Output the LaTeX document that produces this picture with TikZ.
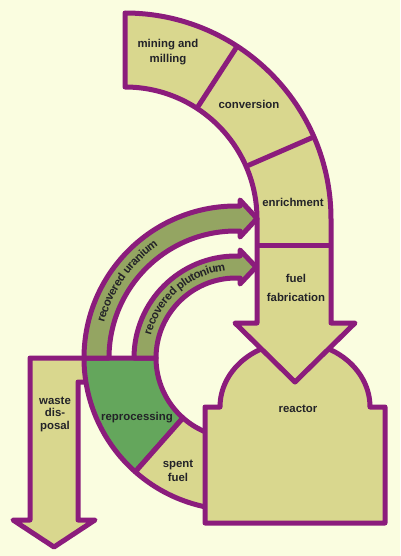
\documentclass[tikz,border=0pt]{standalone}
\usepackage{fontspec}
\setmainfont{Liberation Sans}
\usetikzlibrary{calc,decorations.text}
\definecolor{bg}{RGB}{250,253,224}
\definecolor{khaki}{RGB}{217,215,142}
\definecolor{plum}{RGB}{139,28,124}
\definecolor{repgreen}{RGB}{100,166,92}
\definecolor{olive}{RGB}{148,165,98}
\definecolor{ink}{RGB}{35,35,40}
\begin{document}
\begin{tikzpicture}[x=1pt,y=-1pt,line join=round,
  block/.style={draw=plum,line width=5pt,fill=khaki},
  divider/.style={draw=plum,line width=5pt},
  lbl/.style={text=ink,align=center,inner sep=0pt},
  fnt/.style={font=\fontsize{11.4}{#1}\selectfont\bfseries},
  arctext/.style={decorate,decoration={text effects along path,text={#1},text align=center,
    text effects/.cd,text along path,
    characters={text=ink,font=\fontsize{11.4}{14}\selectfont\bfseries,inner sep=0pt},
    character widths={inner xsep=0.35pt}}}]
\fill[bg] (0,0) rectangle (400,556);
\useasboundingbox (0,0) rectangle (400,556);
\coordinate (C1) at (125,219);
\coordinate (C2) at (236,358);
% waste disposal
\draw[block] (30,358) -- (87,358) -- (87,382) -- (78,382) -- (78,520) -- (95,520) -- (54,547) -- (13,520) -- (30,520) -- cycle;
% reprocessing
\draw[block,fill=repgreen] ($(C2)+(180:152)$) arc[start angle=180,end angle=131.5,radius=152]
  -- ($(C2)+(131.5:80)$) arc[start angle=131.5,end angle=180,radius=80] -- cycle;
% spent fuel
\draw[block] ($(C2)+(131.5:152)$) arc[start angle=131.5,end angle=90,radius=152]
  -- ($(C2)+(90:80)$) arc[start angle=90,end angle=131.5,radius=80] -- cycle;
% reactor
\draw[block] (205,407) -- (220,407) arc[start angle=180,end angle=360,x radius=75,y radius=65]
  -- (385,407) -- (385,523) -- (205,523) -- cycle;
% top band with fuel fabrication arrow
\draw[block] ($(C1)+(270:206)$) arc[start angle=270,end angle=360,radius=206]
  -- (331,323) -- (355,323) -- (295,382) -- (235,323) -- (257,323) -- (257,219)
  arc[start angle=360,end angle=270,radius=132] -- cycle;
\draw[divider] ($(C1)+(303:132)$) -- ($(C1)+(303:206)$);
\draw[divider] ($(C1)+(336.5:132)$) -- ($(C1)+(336.5:206)$);
\draw[divider] (257,245) -- (331,245);
% recovered uranium
\draw[block,fill=olive] ($(C2)+(180:152)$) arc[start angle=180,end angle=270,radius=152]
  -- (240,206) -- (240,200) -- (257,218.5) -- (240,237) -- (240,231) -- (236,231)
  arc[start angle=270,end angle=180,radius=127] -- cycle;
% recovered plutonium
\draw[block,fill=olive] ($(C2)+(180:102)$) arc[start angle=180,end angle=270,radius=102]
  -- (240,256) -- (240,250) -- (256,267) -- (240,284) -- (240,278) -- (236,278)
  arc[start angle=270,end angle=180,radius=80] -- cycle;
% curved labels
\path[arctext={recovered uranium}]
  ($(C2)+(170:136.5)$) arc[start angle=170,end angle=260,radius=136.5];
\path[arctext={recovered plutonium}]
  ($(C2)+(186:88)$) arc[start angle=186,end angle=272,radius=88];
% labels
\node[lbl,fnt=15.5] (mining) at (168,52) {mining and\\milling};
\node[lbl,fnt=14] (conv) at (249,104) {conversion};
\node[lbl,fnt=14] (enrich) at (293,202) {enrichment};
\node[lbl,fnt=18.7] (fab) at (296,288) {fuel\\fabrication};
\node[lbl,fnt=14] (reactor) at (298,409) {reactor};
\node[lbl,fnt=12.5] (waste) at (55,414) {waste\\dis-\\posal};
\node[lbl,fnt=14] (repro) at (137,418) {reprocessing};
\node[lbl,fnt=13.5] (spent) at (178,471) {spent\\fuel};
\end{tikzpicture}
\end{document}
